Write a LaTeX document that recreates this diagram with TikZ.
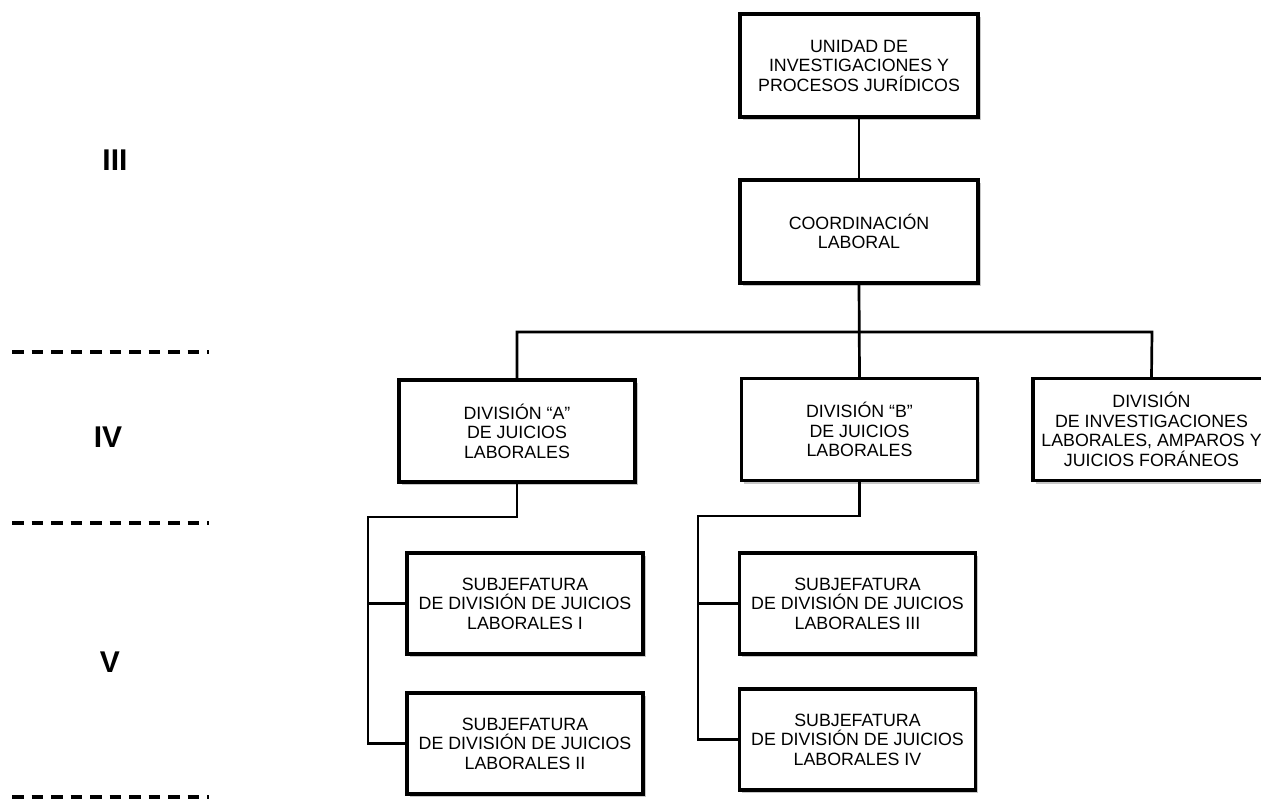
\documentclass[tikz,border=0pt]{standalone}
\usepackage{fontspec}
\setmainfont{Liberation Sans}
\usetikzlibrary{shadows}
\begin{document}
\begin{tikzpicture}[x=1pt,y=-1pt,
  orgbox/.style={draw=black, line width=3.2pt, fill=white, rectangle, align=center,
    minimum width=236pt, minimum height=102pt, inner sep=0pt,
    font=\fontsize{17.8}{19.5}\selectfont,
    drop shadow={shadow xshift=2.5pt, shadow yshift=-3pt, opacity=0.22, fill=black}},
  conn/.style={draw=black, line width=2.7pt},
  sep/.style={draw=black, line width=3.2pt, dash pattern=on 11.5pt off 8pt},
  lvl/.style={font=\fontsize{30}{31}\selectfont\bfseries, inner sep=0pt}]
\useasboundingbox (0,0) rectangle (1261,811);
% level labels
\node[lvl] (l3) at (115,160) {III};
\node[lvl] (l4) at (108,437) {IV};
\node[lvl] (l5) at (110,662) {V};
% separators
\coordinate (s1a) at (12,352); \coordinate (s1b) at (209,352);
\coordinate (s2a) at (12,523); \coordinate (s2b) at (209,523);
\coordinate (s3a) at (12,797); \coordinate (s3b) at (209,797);
\draw[sep] (s1a) -- (s1b);
\draw[sep] (s2a) -- (s2b);
\draw[sep] (s3a) -- (s3b);
% connectors
\coordinate (busA) at (517,332);
\coordinate (busC) at (1152,332);
\coordinate (ja) at (368,517);
\coordinate (jb) at (698,516);
% boxes
\node[orgbox, minimum width=238pt, minimum height=103pt] (top) at (859,65.5)
  {UNIDAD DE\\INVESTIGACIONES Y\\PROCESOS JURÍDICOS};
\node[orgbox, minimum width=238pt, minimum height=103pt] (coord) at (859,231.5)
  {COORDINACIÓN\\LABORAL};
\node[orgbox] (divA) at (517,431) {DIVISIÓN “A”\\DE JUICIOS\\LABORALES};
\node[orgbox] (divB) at (859.5,429.5) {DIVISIÓN “B”\\DE JUICIOS\\LABORALES};
\node[orgbox, minimum width=237pt] (divC) at (1151.5,429.5)
  {DIVISIÓN\\DE INVESTIGACIONES\\LABORALES, AMPAROS Y\\JUICIOS FORÁNEOS};
\node[orgbox, minimum height=101pt] (subI) at (525,603.5)
  {SUBJEFATURA\\DE DIVISIÓN DE JUICIOS\\LABORALES I};
\node[orgbox, minimum height=101pt] (subII) at (525,743.5)
  {SUBJEFATURA\\DE DIVISIÓN DE JUICIOS\\LABORALES II};
\node[orgbox, minimum height=101pt] (subIII) at (857.5,603.5)
  {SUBJEFATURA\\DE DIVISIÓN DE JUICIOS\\LABORALES III};
\node[orgbox, minimum height=101pt] (subIV) at (857.5,739.5)
  {SUBJEFATURA\\DE DIVISIÓN DE JUICIOS\\LABORALES IV};
\draw[conn] (top.south) -- (coord.north);
\draw[conn] (coord.south) -- (divB.north);
\draw[conn] (divA.north) -- (busA) -- (busC) -- (divC.north);
\draw[conn] (divA.south) |- (ja) -- (ja |- subII.west) -- (subII.west);
\draw[conn] (ja |- subI.west) -- (subI.west);
\draw[conn] (divB.south) |- (jb) -- (jb |- subIV.west) -- (subIV.west);
\draw[conn] (jb |- subIII.west) -- (subIII.west);
\end{tikzpicture}
\end{document}
